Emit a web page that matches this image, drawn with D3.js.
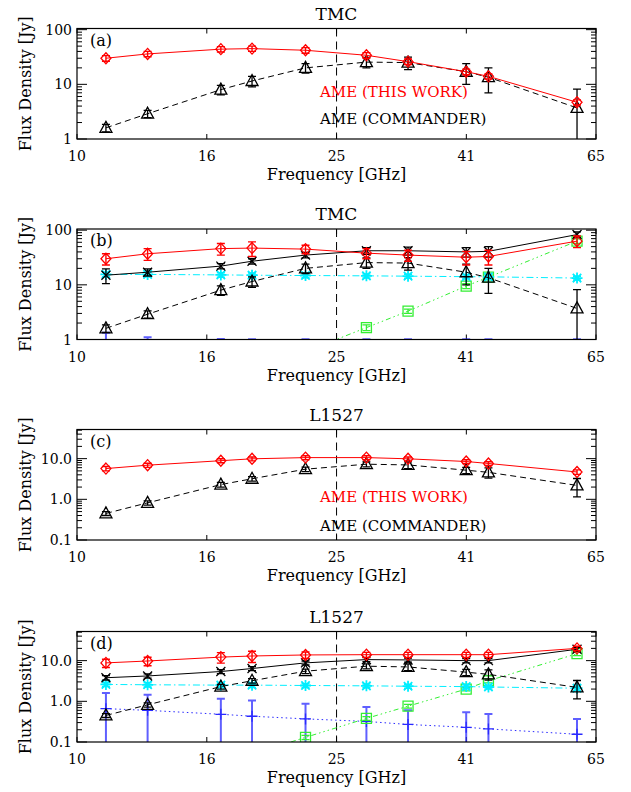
<!DOCTYPE html>
<html><head><meta charset="utf-8">
<script src="https://cdn.jsdelivr.net/npm/d3@7"></script>
<style>body{margin:0;background:#fff}text{font-family:"DejaVu Serif",serif}</style>
</head><body>
<svg id="chart" width="631" height="792"></svg>
<script>
// ---------- data ----------
const freqs = [11.1, 12.9, 16.8, 18.8, 22.8, 28.4, 33.0, 40.7, 44.1, 60.7];
const xTickValues = [10, 15.97, 25.50, 40.72, 65];
const xTickLabels = ["10", "16", "25", "41", "65"];
const dividerFreq = 25.50;

// Panel (a) TMC
const ameThisTMC    = [30, 36, 44, 45, 42, 34, 26, 17, 14, 4.7];
const ameThisTMCErr = [3.5, 4, 5, 5, 5, 4, 3, 2, 1.5, 0.5];
const ameCommTMC    = [1.6, 2.9, 8.0, 11.5, 20, 25.5, 25, 17, 13.5, 3.7];
const ameCommTMCErr = [0.25, 0.45, 1.6, 2.5, 4, 5.5, 6.5, 7, 6.5, 4.5];
// Panel (b) TMC components
const ameFitTMC     = [30, 37, 46, 47, 45, 38, 35, 32, 33, 63];
const ameFitTMCErr  = [7, 9, 11, 14, 8, 8, 8, 9, 10, 15];
const totalTMC      = [15, 17, 22, 27, 35, 42, 42, 40, 41, 83];
const totalTMCErr   = [4.5, 2.5, 2.5, 3, 4, 6, 7, 8, 9, 10];
const ffTMC         = [15.5, 15.5, 15.2, 15.0, 14.8, 14.6, 14.4, 14.1, 14.0, 13.3];
const ffTMCErr      = [1.5, 1.5, 1.4, 1.4, 1.3, 1.2, 1.2, 1.2, 1.2, 1.1];
const dustTMC       = [0.022, 0.04, 0.15, 0.25, 0.6, 1.65, 3.3, 9.5, 13.8, 63];
const dustTMCErr    = [0.003, 0.005, 0.02, 0.03, 0.06, 0.2, 0.3, 1.0, 1.5, 6];
const syncTMC       = [0.55, 0.5, 0.4, 0.37, 0.32, 0.28, 0.24, 0.2, 0.18, 0.13];
const syncTMCErr    = [0.78, 0.6, 0.62, 0.64, 0.69, 0.73, 0.77, 0.81, 0.83, 0.88];
// Panel (c) L1527
const ameThisL1527    = [5.7, 6.9, 8.9, 9.9, 10.6, 10.6, 9.9, 8.5, 7.6, 4.7];
const ameThisL1527Err = [0.7, 0.8, 1.0, 1.1, 1.2, 1.2, 1.1, 0.9, 0.8, 0.6];
const ameCommL1527    = [0.45, 0.82, 2.3, 3.2, 5.5, 7.3, 7.0, 5.2, 4.6, 2.2];
const ameCommL1527Err = [0.05, 0.1, 0.3, 0.4, 0.7, 1.0, 1.3, 0.9, 1.3, 1.05];
// Panel (d) L1527 components
const ameFitL1527     = [8.8, 9.8, 12.2, 13.0, 13.8, 14.0, 14.0, 14.0, 14.0, 20];
const ameFitL1527Err  = [2, 2.3, 3.5, 4, 2.5, 2, 2, 2, 2, 2.5];
const totalL1527      = [3.8, 4.2, 5.4, 6.4, 8.8, 10.6, 10.4, 10.0, 10.0, 19];
const totalL1527Err   = [0.5, 0.5, 0.6, 0.7, 1.0, 1.2, 1.2, 1.2, 1.2, 2];
const ffL1527         = [2.6, 2.55, 2.5, 2.5, 2.45, 2.4, 2.35, 2.3, 2.25, 2.1];
const ffL1527Err      = [0.3, 0.3, 0.3, 0.3, 0.25, 0.25, 0.25, 0.25, 0.25, 0.25];
const dustL1527       = [0.004, 0.008, 0.029, 0.05, 0.13, 0.38, 0.76, 2.0, 3.2, 14.8];
const dustL1527Err    = [0.001, 0.001, 0.003, 0.005, 0.015, 0.04, 0.08, 0.2, 0.35, 1.5];
const syncL1527       = [0.66, 0.6, 0.48, 0.43, 0.37, 0.32, 0.27, 0.23, 0.21, 0.155];
const syncL1527Err    = [0.95, 0.86, 0.68, 0.61, 0.5, 0.4, 0.33, 0.31, 0.28, 0.21];

const legendLabels = ["AME (THIS WORK)", "AME (COMMANDER)"];

// ---------- styles ----------
const RED = "#ff0000", BLACK = "#000000", CYAN = "#00eeff", GREEN = "#33ee33", BLUE = "#2a2aff";
const sty = {
  red:   {color: RED,   dash: null,               marker: "diamond",  barW: 1.4, op: 1},
  comm:  {color: BLACK, dash: "6,4",              marker: "triangle", barW: 1.3, op: 1},
  total: {color: BLACK, dash: null,               marker: "x",        barW: 1.3, op: 1},
  ff:    {color: CYAN,  dash: "7,3,1.5,3",        marker: "asterisk", barW: 1.5, op: 1},
  dust:  {color: GREEN, dash: "5,3,1.5,3,1.5,3,1.5,3", marker: "square", barW: 1.3, op: 1},
  sync:  {color: BLUE,  dash: "1.5,3",            marker: "plus",     barW: 2, op: 0.75}
};

const L = 77, R = 596, H = 110.5;
const panels = [
  {title: "TMC", tag: "(a)", top: 28.5, yDomain: [1, 105], yTicks: [1, 10, 100], yTickLabels: ["1", "10", "100"],
   series: [[ameCommTMC, ameCommTMCErr, sty.comm], [ameThisTMC, ameThisTMCErr, sty.red]], legend: [68, 95]},
  {title: "TMC", tag: "(b)", top: 229, yDomain: [1, 105], yTicks: [1, 10, 100], yTickLabels: ["1", "10", "100"],
   series: [[syncTMC, syncTMCErr, sty.sync], [dustTMC, dustTMCErr, sty.dust], [ffTMC, ffTMCErr, sty.ff],
            [ameCommTMC, ameCommTMCErr, sty.comm], [totalTMC, totalTMCErr, sty.total], [ameFitTMC, ameFitTMCErr, sty.red]]},
  {title: "L1527", tag: "(c)", top: 429.5, yDomain: [0.1, 52], yTicks: [0.1, 1, 10], yTickLabels: ["0.1", "1.0", "10.0"],
   series: [[ameCommL1527, ameCommL1527Err, sty.comm], [ameThisL1527, ameThisL1527Err, sty.red]], legend: [72, 101]},
  {title: "L1527", tag: "(d)", top: 631.5, yDomain: [0.1, 52], yTicks: [0.1, 1, 10], yTickLabels: ["0.1", "1.0", "10.0"],
   series: [[syncL1527, syncL1527Err, sty.sync], [dustL1527, dustL1527Err, sty.dust], [ffL1527, ffL1527Err, sty.ff],
            [ameCommL1527, ameCommL1527Err, sty.comm], [totalL1527, totalL1527Err, sty.total], [ameFitL1527, ameFitL1527Err, sty.red]]}
];

const svg = d3.select("#chart");
const x = d3.scaleLog().domain([10, 65]).range([L, R]);

function markerPath(type) {
  switch (type) {
    case "diamond": return "M0,-5.5L5,0L0,5.5L-5,0Z";
    case "triangle": return "M0,-6.5L6,4.5L-6,4.5Z";
    case "x": return "M-4.5,-4.5L4.5,4.5M-4.5,4.5L4.5,-4.5";
    case "asterisk": return "M0,-5.5L0,5.5M-5.5,0L5.5,0M-4.2,-4.2L4.2,4.2M-4.2,4.2L4.2,-4.2";
    case "square": return "M-5,-5H5V5H-5Z";
    case "plus": return "M0,-5.5L0,5.5M-5.5,0L5.5,0";
  }
}

panels.forEach((p, pi) => {
  const top = p.top, bottom = top + H;
  const y = d3.scaleLog().domain(p.yDomain).range([bottom, top]);
  const lowClamp = p.yDomain[0] / 100;
  const g = svg.append("g");
  const cid = "clip" + pi;
  svg.append("clipPath").attr("id", cid).append("rect")
    .attr("x", L).attr("y", top).attr("width", R - L).attr("height", H);

  // title & tag
  g.append("text").attr("x", (L + R) / 2).attr("y", top - 9).attr("text-anchor", "middle")
    .attr("font-size", 17).text(p.title);
  g.append("text").attr("x", 90).attr("y", top + 17).attr("font-size", 16).text(p.tag);

  // axis labels
  g.append("text").attr("transform", `translate(31,${top + H / 2}) rotate(-90)`)
    .attr("text-anchor", "middle").attr("font-size", 16).text("Flux Density [Jy]");
  g.append("text").attr("x", (L + R) / 2).attr("y", bottom + 41).attr("text-anchor", "middle")
    .attr("font-size", 16).text("Frequency [GHz]");

  // x ticks
  xTickValues.forEach((v, i) => {
    const xx = x(v);
    g.append("line").attr("x1", xx).attr("x2", xx).attr("y1", bottom).attr("y2", bottom - 5).attr("stroke", "#000");
    g.append("line").attr("x1", xx).attr("x2", xx).attr("y1", top).attr("y2", top + 5).attr("stroke", "#000");
    g.append("text").attr("x", xx).attr("y", bottom + 22).attr("text-anchor", "middle")
      .attr("font-size", 14).text(xTickLabels[i]);
  });

  // y ticks (log majors + minors), both sides
  const d0 = Math.floor(Math.log10(p.yDomain[0])), d1 = Math.ceil(Math.log10(p.yDomain[1]));
  for (let d = d0; d <= d1; d++) {
    for (let k = 1; k <= 9; k++) {
      const v = k * Math.pow(10, d);
      if (v < p.yDomain[0] * 0.999 || v > p.yDomain[1] * 1.001) continue;
      const yy = y(v), len = k === 1 ? 10 : 5;
      g.append("line").attr("x1", L).attr("x2", L + len).attr("y1", yy).attr("y2", yy).attr("stroke", "#000");
      g.append("line").attr("x1", R).attr("x2", R - len).attr("y1", yy).attr("y2", yy).attr("stroke", "#000");
    }
  }
  p.yTicks.forEach((v, i) => {
    g.append("text").attr("x", 72).attr("y", y(v)).attr("text-anchor", "end")
      .attr("dominant-baseline", "central").attr("font-size", 14).text(p.yTickLabels[i]);
  });

  // plot content (clipped)
  const c = g.append("g").attr("clip-path", `url(#${cid})`);
  c.append("line").attr("x1", x(dividerFreq)).attr("x2", x(dividerFreq)).attr("y1", top).attr("y2", bottom)
    .attr("stroke", "#000").attr("stroke-dasharray", "8,5");

  const line = d3.line().x((d, i) => x(freqs[i])).y(d => y(Math.max(d, lowClamp)));
  p.series.forEach(([vals, errs, s]) => {
    c.append("path").attr("d", line(vals)).attr("fill", "none").attr("stroke", s.color)
      .attr("stroke-width", 1).attr("stroke-dasharray", s.dash);
    vals.forEach((v, i) => {
      const xx = x(freqs[i]);
      const lo = y(Math.max(v - errs[i], lowClamp)), hi = y(v + errs[i]);
      c.append("path").attr("d", `M${xx},${lo}V${hi}M${xx - 4},${lo}H${xx + 4}M${xx - 4},${hi}H${xx + 4}`)
        .attr("stroke", s.color).attr("stroke-width", s.barW).attr("stroke-opacity", s.op).attr("fill", "none");
      c.append("path").attr("d", markerPath(s.marker)).attr("transform", `translate(${xx},${y(Math.max(v, lowClamp))})`)
        .attr("stroke", s.color).attr("stroke-width", s.marker === "asterisk" ? 1.8 : 1.3).attr("fill", "none");
    });
  });

  // frame
  g.append("rect").attr("x", L).attr("y", top).attr("width", R - L).attr("height", H)
    .attr("fill", "none").attr("stroke", "#000").attr("stroke-width", 1.2);

  if (p.legend) {
    g.append("text").attr("x", 320).attr("y", top + p.legend[0]).attr("font-size", 15).attr("fill", RED).text(legendLabels[0]);
    g.append("text").attr("x", 320).attr("y", top + p.legend[1]).attr("font-size", 15).attr("fill", BLACK).text(legendLabels[1]);
  }
});
</script>
</body></html>
